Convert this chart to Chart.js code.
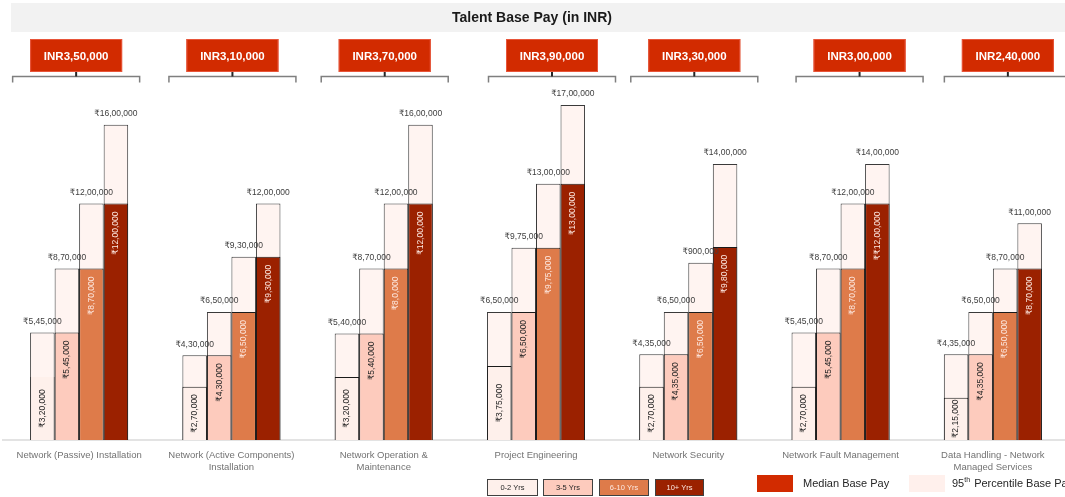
<!DOCTYPE html>
<html>
<head>
<meta charset="utf-8">
<script src="https://cdn.jsdelivr.net/npm/chart.js@4"></script>
<style>
html,body{margin:0;padding:0;overflow:hidden;background:#fff}
#wrap{width:1069px;height:497px;position:relative}
</style>
</head>
<body>
<div id="wrap"><canvas id="c" width="1069" height="497"></canvas></div>
<script>
// ---------- DATA ----------
const categories = [
  'Network (Passive) Installation',
  ['Network (Active Components)', 'Installation'],
  ['Network Operation &', 'Maintenance'],
  'Project Engineering',
  'Network Security',
  'Network Fault Management',
  ['Data Handling - Network', 'Managed Services']
];
const experienceGroups = ['0-2 Yrs', '3-5 Yrs', '6-10 Yrs', '10+ Yrs'];
const overallMedian = ['INR3,50,000', 'INR3,10,000', 'INR3,70,000', 'INR3,90,000', 'INR3,30,000', 'INR3,00,000', 'INR2,40,000'];

const median_0_2  = [320000, 270000, 320000, 375000, 270000, 270000, 215000];
const median_3_5  = [545000, 430000, 540000, 650000, 435000, 545000, 435000];
const median_6_10 = [870000, 650000, 870000, 975000, 650000, 870000, 650000];
const median_10p  = [1200000, 930000, 1200000, 1300000, 980000, 1200000, 870000];

const p95_0_2  = [545000, 430000, 540000, 650000, 435000, 545000, 435000];
const p95_3_5  = [870000, 650000, 870000, 975000, 650000, 870000, 650000];
const p95_6_10 = [1200000, 930000, 1200000, 1300000, 900000, 1200000, 870000];
const p95_10p  = [1600000, 1200000, 1600000, 1700000, 1400000, 1400000, 1100000];

// label texts as printed in the original (including its typos)
const labelOverrides = {
  'm-2-2': '\u20B98,0,000',
  'm-3-5': '\u20B9\u20B912,00,000',
  'p-2-4': '\u20B9900,000'
};

// ---------- STYLE ----------
const groupColors = ['#fef0eb', '#fdcbbd', '#de7b4a', '#9b2100'];
const p95Fill = '#fff4f1';
const boxOffsets = [-3, 1, 1, 16, 6, 19, 15];

function inr(v) {
  const s = String(v);
  let last3 = s.slice(-3), rest = s.slice(0, -3);
  if (rest.length) rest = rest.replace(/\B(?=(\d{2})+(?!\d))/g, ',') + ',';
  return '\u20B9' + rest + last3;
}

const medians = [median_0_2, median_3_5, median_6_10, median_10p];
const p95s = [p95_0_2, p95_3_5, p95_6_10, p95_10p];

const datasets = [];
medians.forEach((arr, g) => {
  datasets.push({
    label: experienceGroups[g] + ' median',
    data: arr,
    stack: 's' + g,
    backgroundColor: groupColors[g],
    borderColor: g === 0 ? arr.map((v, i) => i === 0 ? '#3a3a3a' : '#1a1a1a') : '#1a1a1a',
    borderWidth: g === 0 ? arr.map((v, i) => i === 0 ? { left: 1, right: 1, top: 0, bottom: 0 } : 1) : 1,
    barPercentage: 1,
    categoryPercentage: 0.644
  });
});
p95s.forEach((arr, g) => {
  datasets.push({
    label: experienceGroups[g] + ' 95th',
    data: arr,
    stack: 's' + g,
    backgroundColor: p95Fill,
    borderColor: '#3a3a3a',
    borderWidth: 1,
    barPercentage: 1,
    categoryPercentage: 0.644
  });
});

const FONT = '"Liberation Sans", Arial, "DejaVu Sans", sans-serif';

const decor = {
  id: 'decor',
  beforeDraw(chart) {
    const ctx = chart.ctx;
    const xs = chart.scales.x;
    ctx.save();
    // title band
    ctx.fillStyle = '#f2f2f2';
    ctx.fillRect(11, 3, 1060, 29);
    ctx.fillStyle = '#1a1a1a';
    ctx.font = 'bold 14px ' + FONT;
    ctx.textAlign = 'center';
    ctx.textBaseline = 'middle';
    ctx.fillText('Talent Base Pay (in INR)', 532, 18);
    // boxes and brackets
    overallMedian.forEach((txt, i) => {
      const cx = xs.getPixelForValue(i) + boxOffsets[i];
      const bw = 92, bh = 33, by = 39;
      ctx.fillStyle = '#d22b00';
      ctx.fillRect(cx - bw / 2, by, bw, bh);
      ctx.strokeStyle = '#e8553a';
      ctx.lineWidth = 1;
      ctx.strokeRect(cx - bw / 2 + 0.5, by + 0.5, bw - 1, bh - 1);
      ctx.fillStyle = '#ffffff';
      ctx.font = 'bold 11.5px ' + FONT;
      ctx.fillText(txt, cx, by + bh / 2 + 1);
      // bracket
      const hw = 63.5, ly = 76.5;
      ctx.strokeStyle = '#7f7f7f';
      ctx.lineWidth = 1.5;
      ctx.beginPath();
      ctx.moveTo(cx - hw, ly + 6);
      ctx.lineTo(cx - hw, ly);
      ctx.lineTo(cx + hw, ly);
      ctx.lineTo(cx + hw, ly + 6);
      ctx.stroke();
      ctx.strokeStyle = '#262626';
      ctx.lineWidth = 2;
      ctx.beginPath();
      ctx.moveTo(cx, by + bh);
      ctx.lineTo(cx, ly);
      ctx.stroke();
    });
    ctx.restore();
  },
  afterDatasetsDraw(chart) {
    const ctx = chart.ctx;
    ctx.save();
    ctx.font = '8.5px ' + FONT;
    // 95th percentile labels above bars
    for (let g = 0; g < 4; g++) {
      const meta = chart.getDatasetMeta(4 + g);
      meta.data.forEach((el, i) => {
        const t = labelOverrides['p-' + g + '-' + i] || inr(p95s[g][i]);
        ctx.fillStyle = '#404040';
        ctx.textAlign = 'center';
        ctx.textBaseline = 'middle';
        ctx.fillText(t, el.x, el.y - 11);
      });
    }
    // median labels rotated inside bars
    for (let g = 0; g < 4; g++) {
      const meta = chart.getDatasetMeta(g);
      meta.data.forEach((el, i) => {
        const t = labelOverrides['m-' + g + '-' + i] || inr(medians[g][i]);
        ctx.save();
        ctx.fillStyle = g < 2 ? '#262626' : '#fde8e0';
        ctx.textBaseline = 'middle';
        if (g === 0) {
          ctx.translate(el.x, (el.y + el.base) / 2);
          ctx.rotate(-Math.PI / 2);
          ctx.textAlign = 'center';
          ctx.fillText(t, 0, 0);
        } else {
          ctx.translate(el.x, el.y + 8);
          ctx.rotate(-Math.PI / 2);
          ctx.textAlign = 'right';
          ctx.fillText(t, 0, 0);
        }
        ctx.restore();
      });
    }
    ctx.restore();
  },
  afterDraw(chart) {
    const ctx = chart.ctx;
    ctx.save();
    // experience legend
    const lx = [487, 543, 599, 655];
    const lw = [51, 50, 50, 49];
    experienceGroups.forEach((g, k) => {
      ctx.fillStyle = groupColors[k];
      ctx.fillRect(lx[k], 479, lw[k], 17);
      ctx.strokeStyle = '#404040';
      ctx.lineWidth = 1;
      ctx.strokeRect(lx[k] + 0.5, 479.5, lw[k] - 1, 16);
      ctx.fillStyle = k < 2 ? '#262626' : '#fde8e0';
      ctx.font = '7.5px ' + FONT;
      ctx.textAlign = 'center';
      ctx.textBaseline = 'middle';
      ctx.fillText(g, lx[k] + lw[k] / 2, 488);
    });
    // median / 95th legend
    ctx.fillStyle = '#d22b00';
    ctx.fillRect(757, 475, 36, 17);
    ctx.fillStyle = '#fff0ec';
    ctx.fillRect(909, 475, 36, 17);
    ctx.fillStyle = '#262626';
    ctx.font = '11px ' + FONT;
    ctx.textAlign = 'left';
    ctx.textBaseline = 'middle';
    ctx.fillText('Median Base Pay', 803, 484);
    let x = 952;
    ctx.fillText('95', x, 484);
    x += ctx.measureText('95').width;
    ctx.font = '7px ' + FONT;
    ctx.fillText('th', x, 480);
    x += ctx.measureText('th').width + 1;
    ctx.font = '11px ' + FONT;
    ctx.fillText(' Percentile Base Pay', x, 484);
    ctx.restore();
  }
};

new Chart(document.getElementById('c'), {
  type: 'bar',
  data: { labels: categories, datasets },
  options: {
    responsive: false,
    animation: false,
    layout: { padding: { top: 85.3, left: 3, right: 0, bottom: 0 } },
    plugins: { legend: { display: false }, tooltip: { enabled: false } },
    scales: {
      x: {
        grid: { display: false, drawTicks: false },
        border: { display: true, color: '#e3e3e3', width: 2 },
        ticks: {
          autoSkip: false, maxRotation: 0, padding: 10,
          color: '#737373',
          font: { family: FONT, size: 9.5 }
        },
        afterFit(scale) { scale.height = 57; }
      },
      y: {
        display: false,
        stacked: false,
        min: 0,
        max: 1800000
      }
    }
  },
  plugins: [decor]
});
</script>
</body>
</html>
